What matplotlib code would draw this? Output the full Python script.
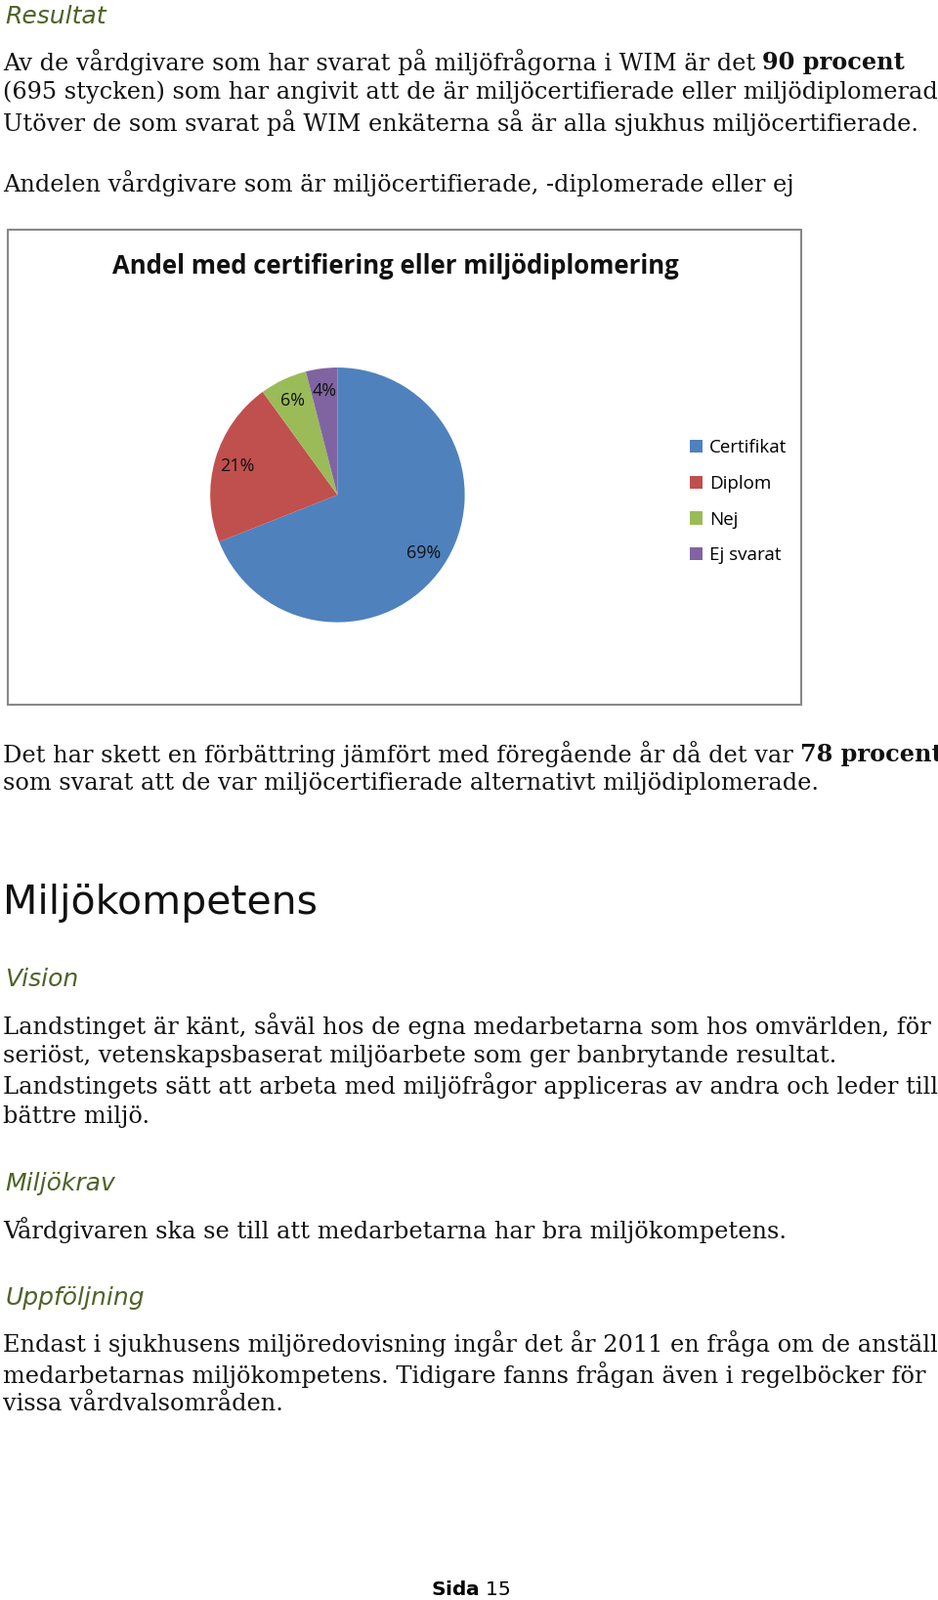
import matplotlib
matplotlib.use("Agg")
import matplotlib.pyplot as plt
from matplotlib.patches import Rectangle

categories = ["Certifikat", "Diplom", "Nej", "Ej svarat"]
values = [69, 21, 6, 4]
colors = ["#4F81BD", "#C0504D", "#9BBB59", "#8064A2"]
title = "Andel med certifiering eller miljödiplomering"

W, H = 920, 1568  # layout space (scaled to 960x1637 output)
fig = plt.figure(figsize=(9.6, 16.37), dpi=100)
page = fig.add_axes([0, 0, 1, 1])
page.set_xlim(0, W); page.set_ylim(H, 0); page.axis("off")

green = "#4F6228"
serif = "DejaVu Serif"
BS = 17.3
def T(x, y, s, size=BS, fam=serif, color="#111111", **kw):
    return page.text(x, y, s, fontsize=size, family=fam, color=color, va="center", ha="left", **kw)

def TB(x, y, s, b):
    t = T(x, y, s)
    page.annotate(b, xy=(1, 0.5), xycoords=t, xytext=(5, 0), textcoords="offset points",
                  va="center", ha="left", fontsize=BS, family=serif, weight="bold", color="#111111")

T(5, 16, "Resultat", 18, "DejaVu Sans", green, style="italic")
TB(3, 61, "Av de vårdgivare som har svarat på miljöfrågorna i WIM är det", "90 procent")
T(3, 90, "(695 stycken) som har angivit att de är miljöcertifierade eller miljödiplomerade.")
T(3, 120, "Utöver de som svarat på WIM enkäterna så är alla sjukhus miljöcertifierade.")
T(3, 180, "Andelen vårdgivare som är miljöcertifierade, -diplomerade eller ej")

page.add_patch(Rectangle((8, 225), 778, 466, fill=False, ec="#888888", lw=1.5))
T(110, 261, title, 18.5, "Open Sans", "#111111", weight="bold")

cx, cy, r = 331, 485, 156
ax = fig.add_axes([(cx-r)/W, 1-(cy+r)/H, 2*r/W, 2*r/H])
wedges, _, autos = ax.pie(values, colors=colors, startangle=90, counterclock=False,
                          autopct="%1.0f%%", pctdistance=0.82,
                          textprops=dict(fontsize=13, family="Open Sans", color="#111111"))
ax.set_aspect("auto")
fig.legend(wedges, categories, loc="upper left", bbox_to_anchor=(660/W, 1-414/H),
           frameon=False, prop=dict(family="Open Sans", size=13.5),
           handlelength=0.7, handleheight=0.7, handletextpad=0.4, labelspacing=1.0)

TB(3, 739, "Det har skett en förbättring jämfört med föregående år då det var", "78 procent")
T(3, 768, "som svarat att de var miljöcertifierade alternativt miljödiplomerade.")

T(3, 885, "Miljökompetens", 29.5, "DejaVu Sans", "#111111")
T(5, 960, "Vision", 18, "DejaVu Sans", green, style="italic")
T(3, 1005, "Landstinget är känt, såväl hos de egna medarbetarna som hos omvärlden, för ett")
T(3, 1035, "seriöst, vetenskapsbaserat miljöarbete som ger banbrytande resultat.")
T(3, 1064, "Landstingets sätt att arbeta med miljöfrågor appliceras av andra och leder till en")
T(3, 1094, "bättre miljö.")
T(5, 1160, "Miljökrav", 18, "DejaVu Sans", green, style="italic")
T(3, 1205, "Vårdgivaren ska se till att medarbetarna har bra miljökompetens.")
T(5, 1272, "Uppföljning", 18, "DejaVu Sans", green, style="italic")
T(3, 1317, "Endast i sjukhusens miljöredovisning ingår det år 2011 en fråga om de anställda")
T(3, 1347, "medarbetarnas miljökompetens. Tidigare fanns frågan även i regelböcker för")
T(3, 1376, "vissa vårdvalsområden.")
page.text(462, 1558, "$\\bf{Sida}$ 15", fontsize=14.5, family="DejaVu Sans", ha="center", va="center")

fig.savefig("out.png", dpi=100)
